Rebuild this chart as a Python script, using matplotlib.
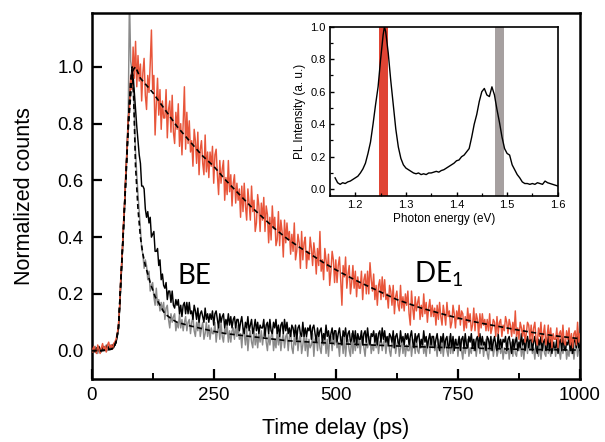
import numpy as np
import matplotlib
matplotlib.use("Agg")
import matplotlib.pyplot as plt
from matplotlib.ticker import MultipleLocator

plt.rcParams['font.family'] = ['Liberation Sans', 'DejaVu Sans']
plt.rcParams['mathtext.default'] = 'regular'

# ---------------- data ----------------
time_ps = np.arange(0, 1000.1, 2.5)   # 2.5 ps bins

de1_counts = [
    0.01, -0.005, 0.015, 0.0, -0.01, 0.02, 0.005, -0.01, 0.01, 0.025, 0.0, 0.015, -0.005, 0.02, 0.03, 0.01, 0.02, 0.005, 0.025, 0.03,
    0.04, 0.06, 0.09, 0.16, 0.27, 0.33, 0.44, 0.52, 0.63, 0.70, 0.82, 0.85, 0.97, 0.92, 1.07, 0.96, 1.09, 0.93, 1.04, 0.95,
    1.01, 0.88, 0.98, 1.03, 0.90, 0.85, 0.97, 0.91, 1.01, 1.13, 0.92, 0.97, 0.76, 0.87, 0.96, 0.83, 0.92, 0.78, 0.88, 0.82,
    0.82, 0.92, 0.75, 0.85, 0.88, 0.77, 0.90, 0.77, 0.73, 0.84, 0.78, 0.87, 0.72, 0.80, 0.69, 0.80, 0.93, 0.71, 0.84, 0.73,
    0.81, 0.70, 0.74, 0.65, 0.78, 0.74, 0.66, 0.77, 0.62, 0.71, 0.74, 0.66, 0.62, 0.76, 0.63, 0.70, 0.61, 0.70, 0.65, 0.72,
    0.59, 0.69, 0.71, 0.62, 0.55, 0.67, 0.59, 0.64, 0.67, 0.53, 0.61, 0.55, 0.67, 0.56, 0.62, 0.51, 0.59, 0.62, 0.52, 0.59,
    0.53, 0.57, 0.47, 0.58, 0.49, 0.59, 0.51, 0.46, 0.57, 0.52, 0.46, 0.58, 0.49, 0.53, 0.42, 0.45, 0.55, 0.51, 0.42, 0.52,
    0.46, 0.54, 0.42, 0.51, 0.48, 0.38, 0.47, 0.39, 0.51, 0.43, 0.47, 0.37, 0.39, 0.49, 0.37, 0.46, 0.42, 0.33, 0.46, 0.38,
    0.45, 0.39, 0.42, 0.34, 0.41, 0.35, 0.45, 0.32, 0.35, 0.41, 0.38, 0.29, 0.42, 0.32, 0.38, 0.40, 0.29, 0.35, 0.32, 0.40,
    0.36, 0.30, 0.38, 0.34, 0.27, 0.36, 0.30, 0.42, 0.28, 0.32, 0.25, 0.36, 0.32, 0.28, 0.34, 0.23, 0.28, 0.35, 0.32, 0.24,
    0.32, 0.24, 0.30, 0.33, 0.25, 0.16, 0.30, 0.26, 0.33, 0.22, 0.27, 0.30, 0.20, 0.24, 0.30, 0.22, 0.28, 0.19, 0.26, 0.22,
    0.22, 0.28, 0.18, 0.25, 0.27, 0.20, 0.28, 0.20, 0.31, 0.25, 0.21, 0.27, 0.18, 0.23, 0.16, 0.23, 0.25, 0.18, 0.26, 0.19,
    0.25, 0.18, 0.20, 0.15, 0.23, 0.21, 0.16, 0.23, 0.13, 0.19, 0.21, 0.16, 0.14, 0.23, 0.15, 0.19, 0.14, 0.20, 0.16, 0.21,
    0.13, 0.09, 0.21, 0.15, 0.11, 0.19, 0.14, 0.17, 0.19, 0.11, 0.16, 0.12, 0.20, 0.13, 0.17, 0.10, 0.15, 0.18, 0.12, 0.16,
    0.12, 0.15, 0.09, 0.16, 0.11, 0.17, 0.12, 0.09, 0.16, 0.13, 0.09, 0.17, 0.12, 0.14, 0.08, 0.10, 0.16, 0.13, 0.08, 0.14,
    0.11, 0.16, 0.09, 0.14, 0.13, 0.07, 0.12, 0.08, 0.15, 0.10, 0.13, 0.07, 0.09, 0.15, 0.07, 0.13, 0.11, 0.05, 0.13, 0.08,
    0.13, 0.09, 0.11, 0.07, 0.11, 0.07, 0.13, 0.06, 0.08, 0.11, 0.10, 0.05, 0.12, 0.06, 0.10, 0.11, 0.05, 0.09, 0.07, 0.12,
    0.10, 0.06, 0.11, 0.09, 0.05, 0.10, 0.06, 0.14, 0.05, 0.08, 0.04, 0.10, 0.08, 0.05, 0.09, 0.03, 0.06, 0.10, 0.09, 0.04,
    0.09, 0.03, 0.08, 0.10, 0.04, 0.02, 0.08, 0.05, 0.10, 0.03, 0.06, 0.09, 0.02, 0.05, 0.09, 0.03, 0.08, 0.01, 0.06, 0.04,
    0.04, 0.08, 0.01, 0.06, 0.07, 0.03, 0.09, 0.03, 0.02, 0.07, 0.04, 0.08, 0.02, 0.06, 0.01, 0.06, 0.07, 0.02, 0.10, 0.03,
    0.06,
]

be_grey_counts = [
    0.0, 0.01, -0.005, 0.015, 0.0, -0.01, 0.01, 0.005, -0.005, 0.015, 0.0, 0.01, 0.02, 0.0, 0.015, 0.01, 0.02, 0.005, 0.015, 0.02,
    0.03, 0.05, 0.09, 0.16, 0.26, 0.34, 0.43, 0.52, 0.62, 0.72, 0.83, 1.25, 1.02, 0.99, 0.93, 0.84, 0.70, 0.62, 0.55, 0.49,
    0.43, 0.36, 0.34, 0.29, 0.32, 0.30, 0.25, 0.28, 0.21, 0.23, 0.24, 0.19, 0.16, 0.22, 0.16, 0.18, 0.14, 0.17, 0.14, 0.17,
    0.11, 0.15, 0.16, 0.11, 0.08, 0.13, 0.10, 0.12, 0.13, 0.07, 0.10, 0.08, 0.13, 0.08, 0.11, 0.07, 0.10, 0.12, 0.07, 0.10,
    0.11, 0.06, 0.10, 0.12, 0.07, 0.05, 0.10, 0.07, 0.12, 0.05, 0.08, 0.10, 0.04, 0.06, 0.10, 0.05, 0.09, 0.04, 0.08, 0.06,
    0.06, 0.10, 0.03, 0.07, 0.09, 0.04, 0.10, 0.05, 0.03, 0.08, 0.06, 0.09, 0.03, 0.07, 0.03, 0.07, 0.08, 0.04, 0.09, 0.05,
    0.09, 0.04, 0.06, 0.01, 0.08, 0.06, 0.02, 0.08, 0.00, 0.05, 0.07, 0.03, 0.01, 0.08, 0.02, 0.06, 0.01, 0.06, 0.03, 0.07,
    0.02, 0.06, 0.08, 0.03, 0.00, 0.06, 0.02, 0.05, 0.07, 0.00, 0.04, 0.01, 0.07, 0.02, 0.06, 0.00, 0.04, 0.06, 0.01, 0.05,
    0.06, 0.00, 0.05, 0.07, 0.01, -0.01, 0.05, 0.02, 0.07, 0.00, 0.04, 0.06, -0.01, 0.02, 0.06, 0.00, 0.05, -0.02, 0.04, 0.01,
    0.02, 0.06, -0.02, 0.04, 0.05, 0.00, 0.06, 0.01, -0.01, 0.05, 0.02, 0.06, -0.01, 0.04, -0.02, 0.04, 0.05, 0.00, 0.06, 0.02,
    0.06, 0.01, 0.03, -0.02, 0.05, 0.04, -0.01, 0.05, -0.02, 0.03, 0.04, 0.00, -0.02, 0.06, -0.01, 0.04, 0.00, 0.04, 0.01, 0.05,
    -0.01, 0.04, 0.05, 0.01, -0.02, 0.04, 0.01, 0.03, 0.05, -0.01, 0.02, 0.00, 0.05, 0.01, 0.04, -0.01, 0.03, 0.04, 0.00, 0.03,
    0.04, -0.01, 0.03, 0.05, 0.00, -0.02, 0.03, 0.01, 0.05, -0.01, 0.02, 0.04, -0.02, 0.01, 0.04, -0.01, 0.03, -0.02, 0.02, 0.00,
    0.00, 0.04, -0.02, 0.02, 0.04, -0.01, 0.05, 0.00, -0.01, 0.03, 0.01, 0.04, -0.01, 0.02, -0.02, 0.03, 0.04, -0.01, 0.05, 0.01,
    0.04, 0.00, 0.02, -0.02, 0.04, 0.02, -0.01, 0.04, -0.02, 0.02, 0.03, 0.00, -0.02, 0.05, -0.01, 0.03, -0.01, 0.03, 0.01, 0.04,
    -0.02, 0.03, 0.04, 0.00, -0.03, 0.03, -0.01, 0.02, 0.04, -0.02, 0.01, -0.01, 0.04, 0.00, 0.03, -0.02, 0.02, 0.03, -0.01, 0.02,
    0.03, -0.02, 0.02, 0.04, -0.01, -0.03, 0.02, 0.00, 0.04, -0.02, 0.01, 0.03, -0.02, 0.00, 0.03, -0.01, 0.02, -0.03, 0.01, -0.01,
    -0.01, 0.03, -0.03, 0.01, 0.03, -0.02, 0.04, -0.01, -0.02, 0.02, 0.00, 0.04, -0.02, 0.02, -0.03, 0.02, 0.03, -0.01, 0.04, 0.00,
    0.03, -0.01, 0.01, -0.03, 0.03, 0.01, -0.02, 0.03, -0.03, 0.01, 0.02, -0.01, -0.02, 0.04, -0.01, 0.02, -0.02, 0.02, 0.00, 0.03,
    -0.02, 0.02, 0.03, 0.00, -0.03, 0.02, -0.01, 0.01, 0.03, -0.03, 0.00, -0.02, 0.04, -0.01, 0.02, -0.03, 0.01, 0.03, -0.02, 0.01,
    0.0,
]

be_black_counts = [
    0.005, 0.0, 0.01, -0.005, 0.01, 0.0, 0.015, 0.005, 0.0, 0.01, 0.015, 0.0, 0.01, 0.02, 0.005, 0.015, 0.01, 0.02, 0.01, 0.02,
    0.03, 0.05, 0.08, 0.15, 0.24, 0.33, 0.42, 0.51, 0.61, 0.70, 0.80, 0.88, 0.95, 0.99, 0.97, 0.91, 0.85, 0.79, 0.74, 0.69,
    0.66, 0.58, 0.58, 0.57, 0.50, 0.47, 0.49, 0.45, 0.47, 0.40, 0.41, 0.42, 0.35, 0.35, 0.36, 0.30, 0.32, 0.25, 0.27, 0.23,
    0.22, 0.24, 0.18, 0.21, 0.21, 0.17, 0.21, 0.16, 0.15, 0.18, 0.16, 0.18, 0.13, 0.16, 0.12, 0.16, 0.17, 0.13, 0.17, 0.13,
    0.17, 0.13, 0.14, 0.11, 0.16, 0.14, 0.11, 0.15, 0.10, 0.13, 0.14, 0.12, 0.10, 0.15, 0.11, 0.13, 0.10, 0.13, 0.11, 0.14,
    0.09, 0.13, 0.14, 0.11, 0.08, 0.13, 0.10, 0.12, 0.13, 0.08, 0.11, 0.09, 0.13, 0.09, 0.12, 0.08, 0.11, 0.12, 0.08, 0.11,
    0.11, 0.07, 0.10, 0.12, 0.08, 0.06, 0.10, 0.08, 0.12, 0.07, 0.09, 0.11, 0.06, 0.08, 0.11, 0.07, 0.10, 0.06, 0.09, 0.08,
    0.08, 0.11, 0.05, 0.09, 0.10, 0.06, 0.11, 0.07, 0.06, 0.10, 0.08, 0.11, 0.06, 0.09, 0.05, 0.09, 0.10, 0.06, 0.11, 0.07,
    0.10, 0.06, 0.08, 0.05, 0.09, 0.08, 0.05, 0.09, 0.04, 0.08, 0.09, 0.06, 0.05, 0.10, 0.05, 0.08, 0.05, 0.08, 0.07, 0.09,
    0.04, 0.08, 0.09, 0.06, 0.03, 0.08, 0.05, 0.07, 0.08, 0.03, 0.06, 0.04, 0.09, 0.05, 0.07, 0.03, 0.06, 0.08, 0.04, 0.07,
    0.07, 0.03, 0.06, 0.08, 0.04, 0.02, 0.07, 0.05, 0.08, 0.03, 0.06, 0.07, 0.03, 0.04, 0.07, 0.03, 0.07, 0.02, 0.06, 0.04,
    0.04, 0.07, 0.02, 0.06, 0.07, 0.03, 0.08, 0.04, 0.02, 0.06, 0.05, 0.07, 0.03, 0.06, 0.02, 0.06, 0.07, 0.03, 0.08, 0.04,
    0.07, 0.03, 0.05, 0.02, 0.06, 0.05, 0.03, 0.07, 0.01, 0.05, 0.06, 0.03, 0.02, 0.07, 0.03, 0.05, 0.02, 0.06, 0.04, 0.06,
    0.02, 0.05, 0.07, 0.03, 0.01, 0.06, 0.03, 0.05, 0.06, 0.01, 0.04, 0.02, 0.07, 0.03, 0.05, 0.01, 0.04, 0.06, 0.02, 0.05,
    0.05, 0.01, 0.04, 0.06, 0.02, 0.00, 0.05, 0.03, 0.06, 0.01, 0.04, 0.05, 0.01, 0.02, 0.06, 0.01, 0.05, 0.00, 0.04, 0.02,
    0.02, 0.05, 0.00, 0.04, 0.05, 0.01, 0.06, 0.02, 0.01, 0.05, 0.03, 0.06, 0.01, 0.04, 0.00, 0.04, 0.05, 0.01, 0.06, 0.02,
    0.05, 0.02, 0.03, 0.00, 0.05, 0.04, 0.01, 0.05, 0.00, 0.03, 0.05, 0.02, 0.00, 0.06, 0.01, 0.04, 0.01, 0.04, 0.03, 0.05,
    0.00, 0.04, 0.05, 0.02, -0.01, 0.04, 0.01, 0.03, 0.05, 0.00, 0.03, 0.01, 0.06, 0.02, 0.04, 0.00, 0.03, 0.05, 0.01, 0.04,
    0.04, 0.00, 0.03, 0.05, 0.01, -0.01, 0.04, 0.02, 0.05, 0.00, 0.03, 0.04, 0.00, 0.01, 0.05, 0.00, 0.04, -0.01, 0.03, 0.01,
    0.01, 0.04, -0.01, 0.03, 0.04, 0.00, 0.05, 0.01, 0.00, 0.03, 0.02, 0.05, 0.00, 0.03, -0.01, 0.03, 0.04, 0.01, 0.05, 0.01,
    0.02,
]

de1_fit_t = [0, 20, 40, 45, 50, 55, 60, 65, 70, 75, 80, 85, 90, 100, 125, 150,
             175, 200, 225, 250, 275, 300, 325, 350, 375, 400, 425, 450, 475,
             500, 525, 550, 575, 600, 625, 650, 675, 700, 725, 750, 775, 800,
             825, 850, 875, 900, 925, 950, 975, 1000]
de1_fit_v = [0, 0, 0.005, 0.01, 0.03, 0.08, 0.25, 0.42, 0.6, 0.78, 0.9, 0.99,
             1.0, 0.96, 0.91, 0.85, 0.79, 0.74, 0.69, 0.65, 0.60, 0.555, 0.51,
             0.47, 0.43, 0.395, 0.365, 0.338, 0.31, 0.285, 0.262, 0.24, 0.22,
             0.2, 0.18, 0.165, 0.15, 0.138, 0.126, 0.115, 0.105, 0.096, 0.088,
             0.08, 0.072, 0.065, 0.058, 0.052, 0.047, 0.042]

be_fit_t = [0, 20, 40, 45, 50, 55, 60, 65, 70, 75, 80, 83, 86, 90, 95, 100,
            105, 110, 120, 130, 140, 150, 165, 175, 200, 225, 250, 275, 300,
            350, 400, 450, 500, 600, 700, 800, 900, 1000]
be_fit_v = [0, 0, 0.005, 0.01, 0.03, 0.08, 0.25, 0.42, 0.6, 0.8, 0.95, 1.0,
            0.9, 0.65, 0.5, 0.4, 0.34, 0.3, 0.24, 0.19, 0.16, 0.13, 0.11, 0.1,
            0.088, 0.078, 0.068, 0.06, 0.055, 0.045, 0.035, 0.03, 0.025, 0.018,
            0.012, 0.008, 0.004, 0.002]

# inset PL spectrum
energy_ev = [1.160, 1.165, 1.170, 1.175, 1.180, 1.185, 1.190, 1.195, 1.200,
             1.205, 1.210, 1.215, 1.220, 1.225, 1.230, 1.235, 1.240, 1.245,
             1.250, 1.255, 1.2575, 1.260, 1.265, 1.270, 1.275, 1.280, 1.285,
             1.290, 1.295, 1.300, 1.305, 1.310, 1.315, 1.320, 1.325, 1.330,
             1.335, 1.340, 1.345, 1.350, 1.355, 1.360, 1.365, 1.370, 1.375,
             1.380, 1.385, 1.390, 1.395, 1.400, 1.405, 1.410, 1.415, 1.420,
             1.425, 1.430, 1.435, 1.440, 1.445, 1.450, 1.455, 1.460, 1.465,
             1.470, 1.475, 1.480, 1.485, 1.490, 1.495, 1.500, 1.505, 1.510,
             1.515, 1.520, 1.525, 1.530, 1.535, 1.540, 1.545, 1.550, 1.555,
             1.560, 1.565, 1.570, 1.575, 1.580, 1.585, 1.590, 1.595, 1.600]
pl_intensity = [0.07, 0.04, 0.03, 0.04, 0.035, 0.045, 0.05, 0.06, 0.07,
                0.08, 0.10, 0.125, 0.16, 0.22, 0.29, 0.40, 0.52, 0.63,
                0.80, 0.95, 1.0, 0.97, 0.84, 0.67, 0.52, 0.37, 0.26,
                0.19, 0.15, 0.13, 0.12, 0.11, 0.10, 0.095, 0.10, 0.09,
                0.095, 0.09, 0.10, 0.10, 0.105, 0.11, 0.105, 0.115, 0.12,
                0.13, 0.14, 0.15, 0.16, 0.175, 0.18, 0.20, 0.21, 0.23,
                0.25, 0.32, 0.40, 0.46, 0.54, 0.60, 0.62, 0.58, 0.57,
                0.63, 0.58, 0.49, 0.41, 0.32, 0.25, 0.22, 0.21, 0.15,
                0.12, 0.09, 0.07, 0.045, 0.035, 0.035, 0.03, 0.035, 0.03,
                0.04, 0.035, 0.03, 0.05, 0.04, 0.035, 0.03, 0.025, 0.02]

de1_band = (1.247, 1.264)
be_band = (1.476, 1.494)

# ---------------- figure ----------------
ORANGE = '#e8553a'
GREY = '#8a8a8a'

fig = plt.figure(figsize=(6.05, 4.42), dpi=100)
ax = fig.add_axes([0.1514, 0.1425, 0.8073, 0.8281])

ax.plot(time_ps, be_grey_counts, color=GREY, lw=1.05, zorder=2)
ax.plot(time_ps, be_black_counts, color='black', lw=1.05, zorder=3)
ax.plot(time_ps, de1_counts, color=ORANGE, lw=1.05, zorder=4)
ax.plot(de1_fit_t, de1_fit_v, color='black', lw=1.2, ls=(0, (3, 2)), zorder=5)
ax.plot(be_fit_t, be_fit_v, color='black', lw=1.2, ls=(0, (3, 2)), zorder=5)

ax.set_xlim(0, 1000)
ax.set_ylim(-0.1, 1.19)
ax.xaxis.set_major_locator(MultipleLocator(250))
ax.xaxis.set_minor_locator(MultipleLocator(125))
ax.set_yticks([0.0, 0.2, 0.4, 0.6, 0.8, 1.0])
ax.set_yticklabels(['0.0', '0.2', '0.4', '0.6', '0.8', '1.0'])
ax.tick_params(which='major', direction='in', length=7, width=1.6,
               labelsize=13.5, pad=6)
ax.tick_params(which='minor', direction='in', length=4, width=1.4)
for s in ax.spines.values():
    s.set_linewidth(1.8)

ax.set_xlabel('Time delay (ps)', fontsize=15.5, labelpad=10)
ax.set_ylabel('Normalized counts', fontsize=15.5, labelpad=16)

ax.text(175, 0.236, 'BE', fontsize=20, family=['Lato', 'DejaVu Sans'],
        zorder=6)
ax.text(661, 0.24, 'DE$_1$', fontsize=20, family=['Lato', 'DejaVu Sans'],
        zorder=6)

# inset
ins = fig.add_axes([0.5455, 0.5572, 0.3763, 0.3824])
ins.axvspan(de1_band[0], de1_band[1], color='#e04434', lw=0, zorder=1)
ins.axvspan(be_band[0], be_band[1], color='#a6a0a0', lw=0, zorder=1)
ins.plot(energy_ev, pl_intensity, color='black', lw=1.0, zorder=3)
ins.set_xlim(1.15, 1.6)
ins.set_ylim(-0.04, 1.0)
ins.xaxis.set_major_locator(MultipleLocator(0.1))
ins.xaxis.set_minor_locator(MultipleLocator(0.05))
ins.yaxis.set_major_locator(MultipleLocator(0.2))
ins.yaxis.set_minor_locator(MultipleLocator(0.1))
ins.tick_params(which='major', direction='in', length=3, width=1.0,
                labelsize=8, pad=3)
ins.tick_params(which='minor', direction='in', length=2, width=0.9)
for s in ins.spines.values():
    s.set_linewidth(1.2)
ins.set_xlabel('Photon energy (eV)', fontsize=8.5, labelpad=2)
ins.set_ylabel('PL Intensity (a. u.)', fontsize=8.5, labelpad=3)

fig.savefig('out.png', dpi=100)
